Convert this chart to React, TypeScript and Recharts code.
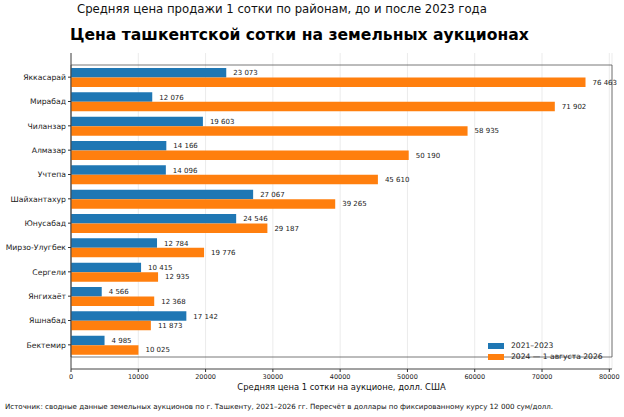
import React from "react";
import {
  BarChart,
  Bar,
  XAxis,
  YAxis,
  CartesianGrid,
  LabelList,
  Legend,
  ReferenceArea,
} from "recharts";

const districts = [
  "Яккасарай",
  "Мирабад",
  "Чиланзар",
  "Алмазар",
  "Учтепа",
  "Шайхантахур",
  "Юнусабад",
  "Мирзо-Улугбек",
  "Сергели",
  "Янгихаёт",
  "Яшнабад",
  "Бектемир",
];
const before2023 = [23073, 12076, 19603, 14166, 14096, 27067, 24546, 12784, 10415, 4566, 17142, 4985];
const after2023 = [76463, 71902, 58935, 50190, 45610, 39265, 29187, 19776, 12935, 12368, 11873, 10025];
const xTicks = [0, 10000, 20000, 30000, 40000, 50000, 60000, 70000, 80000];
const xMax = 80400;
const seriesNames = ["2021–2023", "2024 — 1 августа 2026"];
const colors = ["#1f77b4", "#ff7f0e"];

const data = districts.map((d, i) => ({ name: d, a: before2023[i], b: after2023[i] }));

const fmt = (v: any) => String(v).replace(/\B(?=(\d{3})+(?!\d))/g, " ");

const font = "'DejaVu Sans', sans-serif";

const ValueLabel = (props: any) => {
  const { x, y, width, height, value } = props;
  return (
    <text
      x={Number(x) + Number(width) + 7}
      y={Number(y) + Number(height) / 2}
      dy="0.35em"
      fontSize={7}
      fill="#222"
      fontFamily={font}
    >
      {fmt(value)}
    </text>
  );
};

const LegendBox = () => (
  <div style={{ fontFamily: font, fontSize: 7.6, color: "#222", lineHeight: "11.3px" }}>
    {seriesNames.map((n, i) => (
      <div key={n} style={{ display: "flex", alignItems: "center", whiteSpace: "nowrap" }}>
        <span style={{ width: 16, height: 6, background: colors[i], display: "inline-block", marginRight: 7 }} />
        <span>{n}</span>
      </div>
    ))}
  </div>
);

export default function App() {
  return (
    <div style={{ position: "absolute", left: 0, top: 0, width: 624, height: 417, background: "#fff", fontFamily: font }}>
      <div style={{ position: "absolute", left: 77, top: 2, fontSize: 11.7, color: "#111", whiteSpace: "nowrap" }}>
        Средняя цена продажи 1 сотки по районам, до и после 2023 года
      </div>
      <div style={{ position: "absolute", left: 70, top: 26, fontSize: 15.6, fontWeight: "bold", color: "#000", whiteSpace: "nowrap" }}>
        Цена ташкентской сотки на земельных аукционах
      </div>
      <BarChart
        width={624}
        height={417}
        data={data}
        layout="vertical"
        barGap={0}
        barCategoryGap={2}
        margin={{ top: 53, right: 12, bottom: 18, left: 0 }}
      >
        <CartesianGrid horizontal={false} stroke="#ebebeb" />
        <XAxis
          type="number"
          domain={[0, xMax]}
          ticks={xTicks}
          interval={0}
          height={30}
          tick={{ fontSize: 6.5, fill: "#222", fontFamily: font }}
          tickLine={{ stroke: "#333" }}
          tickSize={3}
          axisLine={{ stroke: "#444" }}
          label={{
            value: "Средняя цена 1 сотки на аукционе, долл. США",
            position: "insideBottom",
            offset: 9,
            style: { fontSize: 8.4, fill: "#111", fontFamily: font },
          }}
        />
        <YAxis
          type="category"
          dataKey="name"
          width={71}
          interval={0}
          padding={{ top: 12, bottom: 12 }}
          tick={{ fontSize: 7.7, fill: "#222", fontFamily: font }}
          tickLine={{ stroke: "#333" }}
          tickSize={3}
          axisLine={{ stroke: "#444" }}
        />
        <ReferenceArea x1={0} x2={xMax} fill="none" stroke="#555" strokeWidth={0.8} ifOverflow="visible" />
        <Bar dataKey="a" name={seriesNames[0]} fill={colors[0]} barSize={9.5} isAnimationActive={false}>
          <LabelList dataKey="a" content={<ValueLabel />} />
        </Bar>
        <Bar dataKey="b" name={seriesNames[1]} fill={colors[1]} barSize={9.5} isAnimationActive={false}>
          <LabelList dataKey="b" content={<ValueLabel />} />
        </Bar>
        <Legend
          layout="horizontal"
          verticalAlign="middle"
          align="center"
          content={<LegendBox />}
          wrapperStyle={{ left: 488, top: 340, width: "auto", height: "auto" }}
        />
      </BarChart>
      <div style={{ position: "absolute", left: 5, top: 402, fontSize: 7.1, color: "#111", whiteSpace: "nowrap" }}>
        Источник: сводные данные земельных аукционов по г. Ташкенту, 2021–2026 гг. Пересчёт в доллары по фиксированному курсу 12 000 сум/долл.
      </div>
    </div>
  );
}
